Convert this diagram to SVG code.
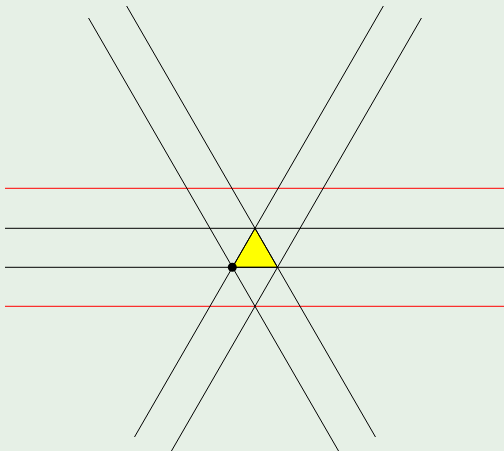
<svg xmlns="http://www.w3.org/2000/svg" width="504" height="451" viewBox="0 0 504 451">
<style>
.bk{stroke:#000;stroke-width:1;fill:none}
.rd{stroke:#ff0000;stroke-width:1;fill:none}
</style>
<rect x="0" y="0" width="504" height="451" fill="#e6f0e6"/>
<g id="triangle">
<polygon points="255,228.3 232.48,267.3 277.52,267.3" fill="#ffff00" stroke="#000" stroke-width="1"/>
</g>
<g id="connectors">
<line class="rd" x1="5" y1="188.3" x2="504" y2="188.3"/>
<line class="bk" x1="5" y1="228.3" x2="504" y2="228.3"/>
<line class="bk" x1="5" y1="267.3" x2="504" y2="267.3"/>
<line class="rd" x1="5" y1="306.3" x2="504" y2="306.3"/>
<line class="bk" x1="88.55" y1="18" x2="340.85" y2="455"/>
<line class="bk" x1="126.66" y1="6" x2="375.49" y2="437"/>
<line class="bk" x1="383.34" y1="6" x2="134.51" y2="437"/>
<line class="bk" x1="421.45" y1="18" x2="169.15" y2="455"/>
</g>
<g id="point">
<circle cx="232.3" cy="267.3" r="4.5" fill="#000"/>
</g>
</svg>
